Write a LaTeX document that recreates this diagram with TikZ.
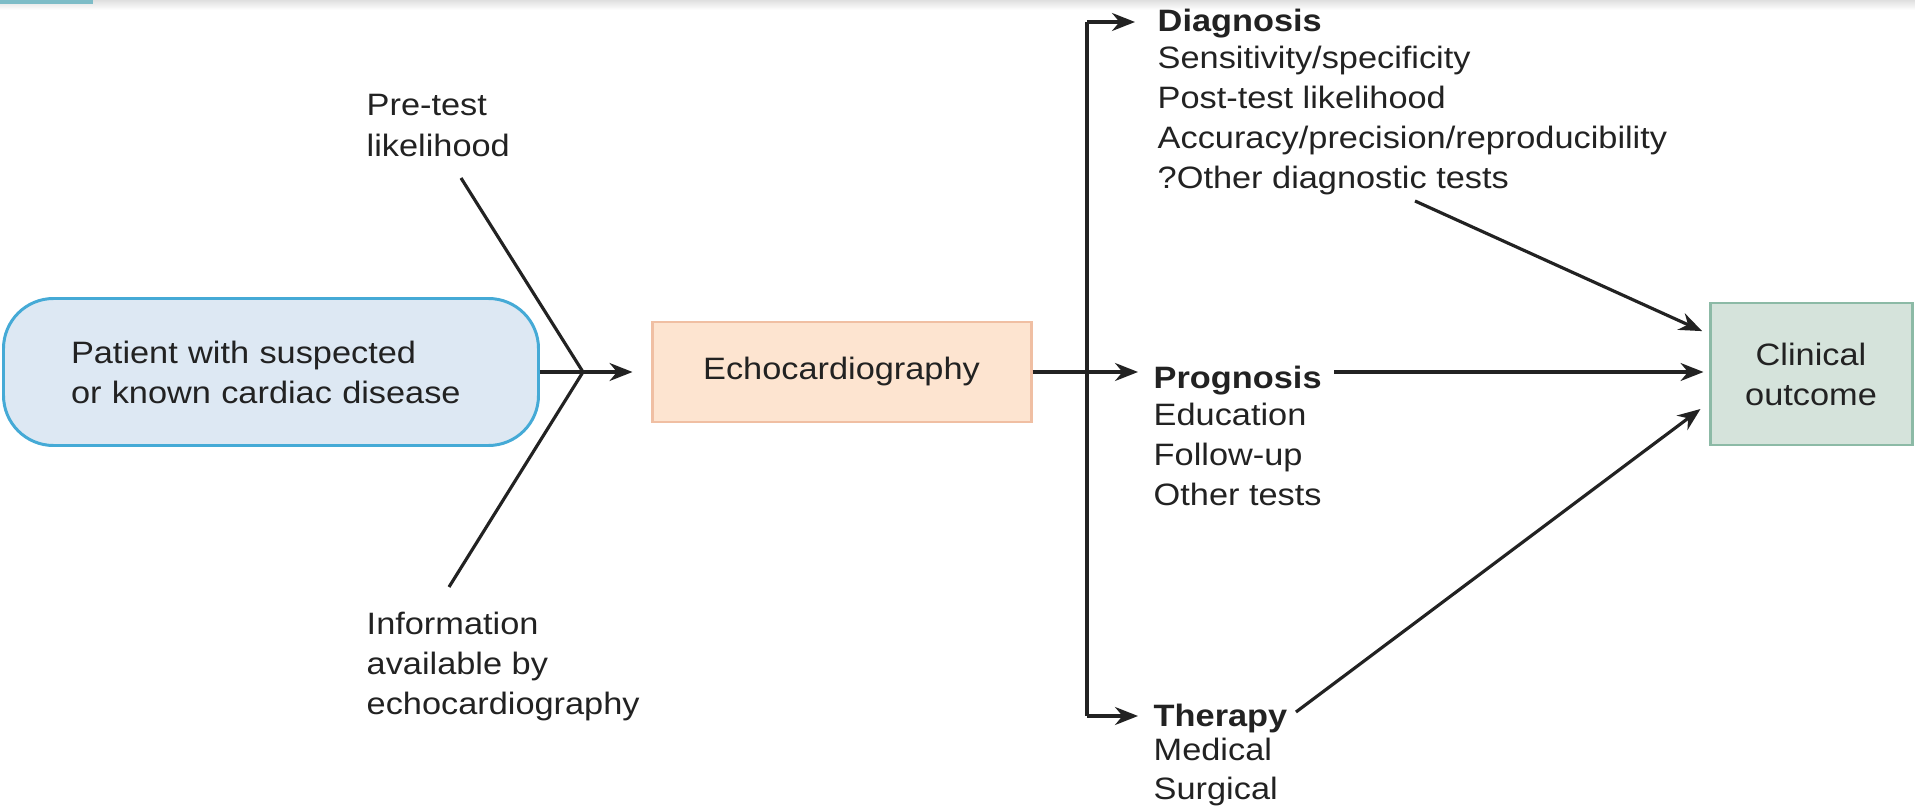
\documentclass[tikz,border=0pt]{standalone}
\usepackage{fontspec}
\setmainfont{Liberation Sans}[FakeStretch=1.11]
\usetikzlibrary{arrows.meta,calc}

\definecolor{patfill}{HTML}{DDE8F3}
\definecolor{patdraw}{HTML}{45AAD6}
\definecolor{echofill}{HTML}{FDE4D0}
\definecolor{echodraw}{HTML}{F0BFA3}
\definecolor{outfill}{HTML}{D5E3DB}
\definecolor{outdraw}{HTML}{8CBAA6}
\definecolor{tealbar}{HTML}{7DBCC7}
\definecolor{ink}{HTML}{222222}

\tikzset{
  lbl/.style={anchor=north west, align=left, execute at begin node={\strut}},
  head/.style={anchor=base west, font=\fontsize{8.8pt}{11.4pt}\selectfont\bfseries},
  patbox/.style={draw=patdraw, fill=patfill, line width=0.85pt, rounded corners=5mm,
    minimum width=53.5mm, minimum height=14.7mm, text width=40mm, align=left},
  echobox/.style={draw=echodraw, fill=echofill, line width=0.85pt,
    minimum width=37.9mm, minimum height=10mm, align=center},
  outbox/.style={draw=outdraw, fill=outfill, line width=0.85pt,
    minimum width=20.2mm, minimum height=14.2mm, align=center},
  wire/.style={line width=0.9pt, draw=ink},
  arr/.style={wire, -{Stealth[length=2.3mm,width=1.8mm]}},
}

\begin{document}
\begin{tikzpicture}[x=0.1mm, y=-0.1mm,
  every node/.style={font=\fontsize{8.8pt}{11.4pt}\selectfont, text=ink, inner sep=0pt}]

\useasboundingbox (0,0) rectangle (1915,811);

% scan edge at the top
\shade[top color=gray!25, bottom color=white] (0,0) rectangle (1915,10);
\fill[tealbar] (0,0) rectangle (93,4);

\def\ymid{372}; % main row
\def\xsplit{1087}; % branch line
\def\ydiag{22}; % diagnosis row
\def\ythr{716}; % therapy row

% boxes
\node[patbox] (patient) at (271,\ymid) {Patient with suspected\\or known cardiac disease};
\node[echobox] (echo) at (841.5,\ymid) {Echocardiography};
\node[outbox] (outcome) at (1811,374) {Clinical\\outcome};

% inputs (lists hang from their first line)
\node[lbl] (pretest) at (366,94) {Pre-test\\likelihood};
\node[lbl] (info) at (366,611) {Information\\available by\\echocardiography};

% branches
\node[head] (diag) at (1157,32) {Diagnosis};
\node[lbl] (diaglist) at (1157,45) {Sensitivity/specificity\\Post-test likelihood\\Accuracy/precision/reproducibility\\?Other diagnostic tests};
\node[head] (prog) at (1153,389) {Prognosis};
\node[lbl] (proglist) at (1153,402) {Education\\Follow-up\\Other tests};
\node[head] (ther) at (1153,726) {Therapy};
\node[lbl] (therlist) at (1153,737) {Medical\\[-0.2pt]Surgical};

% fork into echo
\coordinate (fork) at (583,\ymid);
\coordinate (pretail) at (461,178);
\coordinate (infotail) at (449,587);
\draw[wire] (pretail) -- (fork) -- (infotail);
\draw[arr, shorten >=1.8mm] (patient.east) -- (echo.west);

% split to the three uses
\coordinate (split) at (\xsplit,\ymid);
\coordinate (dtop) at (\xsplit,\ydiag);
\coordinate (tbot) at (\xsplit,\ythr);
\draw[wire] (dtop) -- (tbot);
\draw[wire] (echo.east) -- (split);
\draw[arr, shorten >=1.5mm] (split) -- (split -| prog.west);
\draw[arr, shorten >=2.2mm] (dtop) -- (dtop -| diag.west);
\draw[arr, shorten >=1.5mm] (tbot) -- (tbot -| ther.west);

% into outcome
\coordinate (dtail) at (1415,201);
\draw[arr, shorten >=0.7mm] (dtail) -- ($(outcome.west)+(0,-40)$);
\draw[arr, shorten <=1.2mm, shorten >=0.5mm] (prog.east |- split) -- (split -| outcome.west);
\draw[arr, shorten <=1mm, shorten >=1mm] (ther.east) -- ($(outcome.west)+(0,29)$);

\end{tikzpicture}
\end{document}
